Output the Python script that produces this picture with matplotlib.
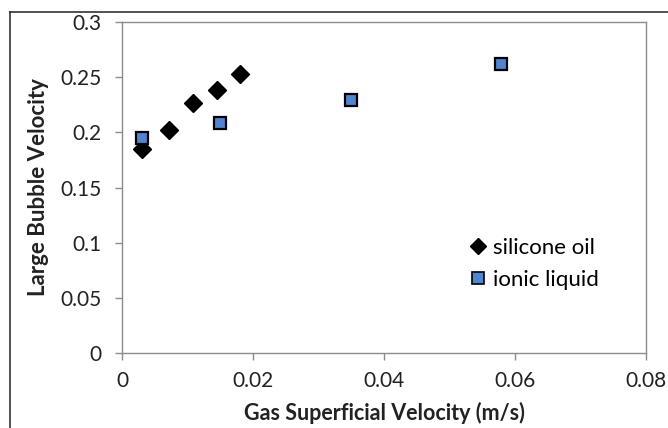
import matplotlib.pyplot as plt
from matplotlib.lines import Line2D

# Data
silicone_x = [0.003, 0.0072, 0.0108, 0.0145, 0.018]
silicone_y = [0.185, 0.2025, 0.227, 0.2385, 0.2525]
ionic_x = [0.003, 0.015, 0.035, 0.0578]
ionic_y = [0.195, 0.2085, 0.2295, 0.262]

x_ticks = [0, 0.02, 0.04, 0.06, 0.08]
x_labels = ["0", "0.02", "0.04", "0.06", "0.08"]
y_ticks = [0, 0.05, 0.1, 0.15, 0.2, 0.25, 0.3]
y_labels = ["0", "0.05", "0.1", "0.15", "0.2", "0.25", "0.3"]

plt.rcParams['font.family'] = ['Lato', 'DejaVu Sans']

fig = plt.figure(figsize=(6.68, 4.28), dpi=100)
ax = fig.add_axes([0.1826, 0.1752, 0.7844, 0.7734])

ax.plot(silicone_x, silicone_y, linestyle='none', marker='D', markersize=9.5,
        color='black', label='silicone oil', zorder=3)
ax.plot(ionic_x, ionic_y, linestyle='none', marker='s', markersize=8.5,
        markerfacecolor='#4F86D4', markeredgecolor='black', markeredgewidth=1.6,
        label='ionic liquid', zorder=4)

ax.set_xlim(0, 0.08)
ax.set_ylim(0, 0.3)
ax.set_xticks(x_ticks)
ax.set_xticklabels(x_labels)
ax.set_yticks(y_ticks)
ax.set_yticklabels(y_labels)

for s in ax.spines.values():
    s.set_color('#8c8c8c')
    s.set_linewidth(1.0)
ax.tick_params(axis='both', direction='out', length=5, width=1.0,
               color='#8c8c8c', labelsize=15, labelcolor='#222222')
ax.tick_params(axis='x', pad=8)
ax.tick_params(axis='y', pad=10)

ax.set_xlabel('Gas Superficial Velocity (m/s)', fontsize=15.5, fontweight='bold',
              color='#222222', labelpad=8)
ax.set_ylabel('Large Bubble Velocity', fontsize=16, fontweight='bold',
              color='#222222', labelpad=8)

leg_handles = [
    Line2D([], [], linestyle='none', marker='D', markersize=8, color='black'),
    Line2D([], [], linestyle='none', marker='s', markersize=8,
           markerfacecolor='#4F86D4', markeredgecolor='black', markeredgewidth=1.2),
]
ax.legend(leg_handles, ['silicone oil', 'ionic liquid'], frameon=False,
          fontsize=16, loc='upper left', bbox_to_anchor=(0.645, 0.375),
          handlelength=0.8, handletextpad=0.3, labelspacing=0.55,
          borderaxespad=0)

# outer chart frame (partially cropped in the reference)
fig.add_artist(Line2D([0.015, 1.0], [1 - 12 / 428, 1 - 12 / 428],
                      transform=fig.transFigure, color='#333333', linewidth=1.2))
fig.add_artist(Line2D([0.015, 0.015], [0, 1 - 12 / 428],
                      transform=fig.transFigure, color='#333333', linewidth=1.2))

fig.savefig('out.png', dpi=100)
